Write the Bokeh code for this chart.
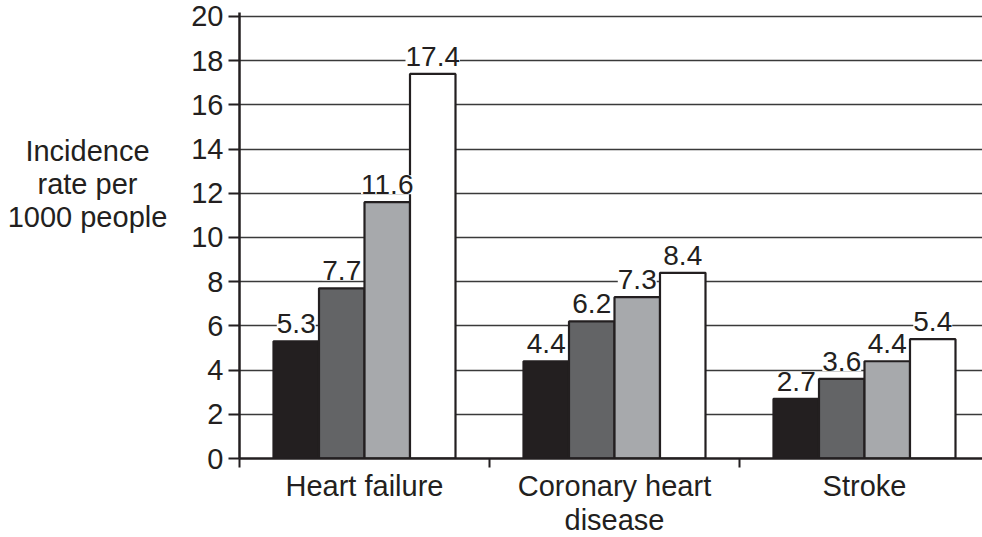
from bokeh.plotting import figure
from bokeh.models import ColumnDataSource, FixedTicker, LabelSet
from bokeh.layouts import row
from bokeh.core.properties import value
from bokeh.embed import file_html
from bokeh.resources import INLINE

categories = ["Heart failure", "Coronary heart\ndisease", "Stroke"]
series_1 = [5.3, 4.4, 2.7]
series_2 = [7.7, 6.2, 3.6]
series_3 = [11.6, 7.3, 4.4]
series_4 = [17.4, 8.4, 5.4]
y_ticks = [0, 2, 4, 6, 8, 10, 12, 14, 16, 18, 20]
y_label = "Incidence\nrate per\n1000 people"

series = [series_1, series_2, series_3, series_4]
colors = ["#231f20", "#636466", "#a7a9ac", "#ffffff"]
FONT = "Liberation Sans"
INK = "#231f20"
bar_w = 0.182

# left panel holding the horizontal y-axis title
lf = figure(width=180, height=537, x_range=(0, 180), y_range=(0, 537),
            output_backend="svg", toolbar_location=None,
            x_axis_location=None, y_axis_location=None,
            min_border_left=0, min_border_right=0, min_border_top=0, min_border_bottom=0)
lf.outline_line_color = None
lf.grid.grid_line_color = None
lf.text(x=[87], y=[330], text=[y_label], text_align="center", text_baseline="middle",
        text_font=value(FONT), text_font_size=value("29px"), text_color=INK,
        text_line_height=1.03)

p = figure(frame_width=743, frame_height=446, x_range=(0, 2.972), y_range=(0, 20.18),
           output_backend="svg", toolbar_location=None,
           min_border_left=59, min_border_right=0, min_border_top=12, min_border_bottom=79)
p.outline_line_color = None
p.xgrid.grid_line_color = None
p.ygrid.grid_line_color = "#3a3a3a"
p.ygrid.grid_line_width = 1.4
p.ygrid.ticker = FixedTicker(ticks=y_ticks)

centers = [i + 0.5 for i in range(len(categories))]
xs, tops, cols, labels = [], [], [], []
for k, vals in enumerate(series):
    for i, v in enumerate(vals):
        xs.append(centers[i] + (k - 1.5) * bar_w)
        tops.append(v)
        cols.append(colors[k])
        labels.append(f"{v:.1f}")
src = ColumnDataSource(dict(x=xs, top=tops, color=cols, label=labels))
p.vbar(x="x", top="top", bottom=0, width=bar_w, fill_color="color",
       line_color=INK, line_width=2.2, source=src)

ls = LabelSet(x="x", y="top", text="label", source=src, text_align="center",
              text_baseline="bottom", y_offset=8, text_font=value(FONT),
              text_font_size=value("28px"), text_color=value(INK),
              background_fill_color="white", background_fill_alpha=1.0)
p.add_layout(ls)

# y axis
ya = p.yaxis[0]
ya.ticker = FixedTicker(ticks=y_ticks)
ya.axis_line_color = INK
ya.axis_line_width = 2.5
ya.major_tick_line_color = INK
ya.major_tick_line_width = 2
ya.major_tick_out = 11
ya.major_tick_in = 0
ya.minor_tick_line_color = None
ya.major_label_standoff = 5
ya.major_label_text_font = FONT
ya.major_label_text_font_size = "29px"
ya.major_label_text_color = INK

# x axis
xa = p.xaxis[0]
xa.ticker = FixedTicker(ticks=centers, minor_ticks=[0, 1, 2, 3])
xa.major_label_overrides = {c: lab for c, lab in zip(centers, categories)}
xa.axis_line_color = INK
xa.axis_line_width = 2.5
xa.major_tick_line_color = None
xa.major_tick_out = 0
xa.major_tick_in = 0
xa.minor_tick_line_color = INK
xa.minor_tick_line_width = 2
xa.minor_tick_out = 9
xa.minor_tick_in = 0
xa.major_label_standoff = 2
xa.major_label_text_font = FONT
xa.major_label_text_font_size = "29px"
xa.major_label_text_line_height = 1.08
xa.major_label_text_color = INK

layout = row(lf, p, spacing=0)
open("out.html", "w").write(file_html(layout, INLINE))
